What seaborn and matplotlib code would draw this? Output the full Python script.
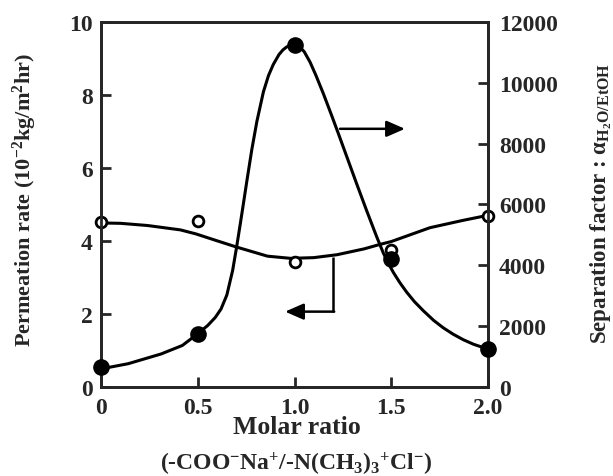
import numpy as np
import pandas as pd
import matplotlib.pyplot as plt
import seaborn as sns

# measured points
molar_ratio = [0, 0.5, 1.0, 1.5, 2.0]
permeation = [4.52, 4.53, 3.42, 3.75, 4.68]          # 10^-2 kg/m2hr (left axis)
separation = [650, 1740, 11250, 4200, 1250]           # alpha (right axis)

# fitted curves
perm_curve_x = [0, 0.1, 0.24, 0.41, 0.49, 0.6, 0.7, 0.86, 0.98, 1.1, 1.22, 1.36, 1.44, 1.5, 1.6, 1.7, 1.87, 2.0]
perm_curve_y = [4.49, 4.48, 4.42, 4.3, 4.19, 4.0, 3.83, 3.58, 3.52, 3.54, 3.62, 3.78, 3.9, 3.98, 4.17, 4.36, 4.56, 4.7]

sep_curve_x = [0, 0.14, 0.31, 0.42, 0.49, 0.55, 0.59, 0.62, 0.65, 0.68, 0.70, 0.72, 0.736, 0.753,
               0.779, 0.805, 0.839, 0.865, 0.89, 0.92, 0.94, 0.96, 0.989, 1.01, 1.028, 1.05,
               1.08, 1.11, 1.149, 1.192, 1.227, 1.27, 1.321, 1.373, 1.425, 1.459, 1.485, 1.511,
               1.545, 1.58, 1.62, 1.666, 1.72, 1.769, 1.82, 1.872, 1.925, 1.976, 2.0]
sep_curve_y = [590, 760, 1080, 1360, 1700, 2010, 2280, 2560, 3020, 3830, 4580, 5380, 6040, 6750,
               7800, 8720, 9700, 10230, 10600, 10930, 11080, 11180, 11240, 11230, 11170, 11020,
               10680, 10250, 9640, 8920, 8320, 7570, 6680, 5790, 4930, 4400, 4060, 3760,
               3420, 3110, 2800, 2500, 2180, 1940, 1730, 1550, 1400, 1290, 1250]

x_ticks = [0, 0.5, 1.0, 1.5, 2.0]
x_ticklabels = ['0', '0.5', '1.0', '1.5', '2.0']
left_ticks = [0, 2, 4, 6, 8, 10]
right_ticks = [0, 2000, 4000, 6000, 8000, 10000, 12000]

sns.set_style("ticks")
plt.rcParams['font.family'] = ['Liberation Serif', 'DejaVu Serif']
plt.rcParams['font.weight'] = 'bold'
plt.rcParams['mathtext.fontset'] = 'custom'
plt.rcParams['mathtext.rm'] = 'Liberation Serif:bold'
plt.rcParams['mathtext.it'] = 'Liberation Serif:italic:bold'
plt.rcParams['mathtext.bf'] = 'Liberation Serif:bold'

fig = plt.figure(figsize=(6.13, 4.77), dpi=100)
ax = fig.add_axes([0.165, 0.187, 0.631, 0.765])
ax2 = ax.twinx()

sns.lineplot(x=perm_curve_x, y=perm_curve_y, ax=ax, color='black', lw=2.2, estimator=None)
sns.scatterplot(x=molar_ratio, y=permeation, ax=ax, marker='o', s=60, color='white',
                edgecolor='black', linewidth=2, clip_on=False, zorder=5)

sns.lineplot(x=sep_curve_x, y=sep_curve_y, ax=ax2, color='black', lw=2.2, estimator=None)
sns.scatterplot(x=molar_ratio, y=separation, ax=ax2, marker='o', s=120, color='black',
                edgecolor='black', linewidth=1, clip_on=False, zorder=5)

ax.set_xlim(0, 2.0)
ax.set_ylim(0, 10)
ax2.set_ylim(0, 12000)

ax.set_xticks(x_ticks)
ax.set_xticklabels(x_ticklabels)
ax.set_yticks(left_ticks)
ax2.set_yticks(right_ticks)
ax.set_xlabel('')
ax.set_ylabel('')
ax2.set_ylabel('')

ax.tick_params(axis='both', direction='in', length=7, width=2, labelsize=17, pad=7)
ax.tick_params(axis='y', pad=6)
ax2.tick_params(axis='y', direction='in', length=7, width=2, labelsize=17, pad=8)
for a in (ax, ax2):
    for s in a.spines.values():
        s.set_linewidth(2)

# arrows pointing at the axes
ax.annotate('', xy=(1.571, 7.07), xytext=(1.235, 7.07),
            arrowprops=dict(arrowstyle='-|>,head_length=0.8,head_width=0.35', mutation_scale=14,
                            lw=1.8, color='black', shrinkA=0, shrinkB=0))
ax.plot([1.2, 1.2], [3.56, 2.06], color='black', lw=1.8, solid_capstyle='butt')
ax.annotate('', xy=(0.951, 2.06), xytext=(1.205, 2.06),
            arrowprops=dict(arrowstyle='-|>,head_length=0.8,head_width=0.35', mutation_scale=14,
                            lw=1.8, color='black', shrinkA=0, shrinkB=0))

fig.text(25 / 613, 1 - 200 / 477, r'Permeation rate (10$^{-2}$kg/m$^{2}$hr)',
         rotation=90, ha='center', va='center', fontsize=16)
fig.text(601 / 613, 1 - 203 / 477, r'Separation factor : α$_{\mathrm{H_2O/EtOH}}$',
         rotation=90, ha='center', va='center', fontsize=16.5)
fig.text(297 / 613, 1 - 428 / 477, 'Molar ratio', ha='center', va='center', fontsize=18.5)
fig.text(296 / 613, 1 - 464 / 477, r'(-COO$^{-}$Na$^{+}$/-N(CH$_3$)$_3$$^{+}$Cl$^{-}$)',
         ha='center', va='center', fontsize=17)

fig.savefig('out.png', dpi=100)
